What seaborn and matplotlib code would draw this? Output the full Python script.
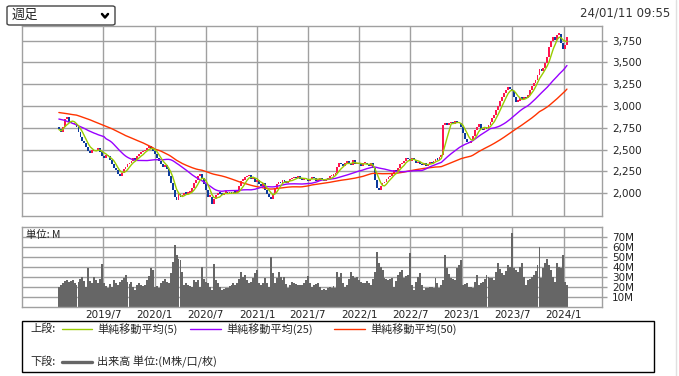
import numpy as np
import pandas as pd
import seaborn as sns
import matplotlib.pyplot as plt
import matplotlib.dates as mdates
from matplotlib.patches import FancyBboxPatch, Rectangle
from matplotlib.lines import Line2D

W, H = 679, 376

# weekly bars, first week starting 2019-01-21
start_week = "2019-01-21"
first_open = 2760
close = [
    2730, 2700, 2760, 2850, 2870, 2820, 2800, 2790, 2810, 2760,
    2700, 2640, 2600, 2580, 2530, 2480, 2460, 2500, 2480, 2500,
    2520, 2470, 2420, 2400, 2440, 2420, 2380, 2330, 2290, 2260,
    2220, 2200, 2230, 2280, 2300, 2330, 2350, 2370, 2400, 2380,
    2430, 2450, 2470, 2480, 2500, 2520, 2540, 2510, 2480, 2450,
    2400, 2370, 2330, 2300, 2320, 2280, 2200, 2120, 2030, 1950,
    1920, 1990, 1960, 1980, 2000, 1990, 2000, 2010, 2060, 2120,
    2150, 2190, 2220, 2170, 2100, 2030, 1960, 1960, 1870, 1930,
    1980, 2000, 1990, 1980, 2000, 2010, 1990, 2000, 1990, 2010,
    2000, 2010, 2080, 2140, 2150, 2180, 2190, 2210, 2160, 2170,
    2130, 2150, 2100, 2080, 2110, 2030, 1990, 1960, 1930, 1990,
    2060, 2100, 2130, 2110, 2150, 2130, 2120, 2140, 2160, 2170,
    2180, 2170, 2190, 2160, 2150, 2170, 2160, 2140, 2160, 2180,
    2170, 2140, 2150, 2170, 2160, 2140, 2150, 2170, 2190, 2200,
    2210, 2230, 2300, 2340, 2330, 2310, 2350, 2370, 2340, 2320,
    2380, 2330, 2350, 2330, 2310, 2340, 2350, 2330, 2310, 2340,
    2290, 2150, 2060, 2030, 2080, 2110, 2130, 2160, 2180, 2200,
    2230, 2260, 2250, 2290, 2330, 2350, 2370, 2400, 2390, 2370,
    2400, 2380, 2340, 2360, 2330, 2320, 2340, 2310, 2330, 2360,
    2340, 2370, 2390, 2380, 2410, 2440, 2780, 2800, 2780, 2800,
    2820, 2790, 2830, 2810, 2800, 2760, 2690, 2620, 2590, 2570,
    2600, 2650, 2720, 2760, 2790, 2740, 2720, 2760, 2740, 2780,
    2820, 2860, 2900, 2950, 3000, 3060, 3100, 3150, 3180, 3220,
    3200, 3170, 3100, 3050, 3060, 3090, 3080, 3100, 3090, 3130,
    3180, 3230, 3260, 3300, 3360, 3420, 3400, 3440, 3490, 3560,
    3680, 3750, 3790, 3760, 3820, 3830, 3720, 3660, 3700, 3790,
]
volume = [
    20, 22, 24, 26, 27, 25, 26, 27, 24, 22,
    25, 28, 30, 26, 20, 39, 26, 24, 30, 27,
    24, 28, 43, 24, 21, 19, 23, 20, 27, 24,
    22, 25, 27, 29, 32, 25, 23, 25, 20, 17,
    22, 24, 22, 21, 22, 27, 31, 39, 37, 20,
    21, 19, 24, 26, 28, 25, 24, 34, 45, 62,
    52, 48, 47, 35, 22, 24, 22, 21, 20, 27,
    25, 27, 20, 40, 28, 25, 24, 20, 17, 43,
    27, 24, 20, 17, 18, 19, 19, 21, 22, 24,
    22, 24, 28, 35, 30, 32, 27, 24, 25, 29,
    34, 37, 24, 22, 24, 29, 24, 20, 50, 34,
    24, 29, 35, 30, 27, 30, 23, 19, 22, 25,
    24, 23, 22, 22, 22, 24, 27, 31, 24, 20,
    22, 23, 24, 20, 17, 18, 17, 19, 20, 19,
    21, 19, 35, 30, 34, 24, 20, 22, 28, 35,
    31, 29, 30, 27, 25, 24, 24, 26, 24, 22,
    28, 35, 55, 44, 40, 37, 29, 28, 27, 28,
    29, 20, 26, 32, 35, 37, 29, 31, 32, 54,
    22, 17, 25, 30, 34, 22, 17, 19, 19, 20,
    20, 19, 29, 24, 19, 22, 27, 52, 39, 33,
    29, 28, 27, 39, 42, 47, 22, 23, 24, 20,
    20, 19, 25, 32, 22, 24, 25, 28, 32, 30,
    29, 29, 27, 35, 44, 38, 34, 32, 36, 42,
    40, 74, 39, 37, 35, 40, 44, 30, 22, 27,
    28, 30, 32, 36, 42, 60, 29, 39, 44, 48,
    42, 37, 30, 25, 44, 40, 39, 52, 25, 22,
]
# moving averages before a full window of shown weeks exists
ma25_head = [2850, 2845, 2840, 2835, 2825, 2815, 2810, 2800, 2792, 2782,
             2772, 2762, 2752, 2742, 2730, 2718, 2708, 2698, 2688, 2680,
             2670, 2662, 2655, 2648]
ma50_head = [2925, 2922, 2918, 2915, 2912, 2908, 2905, 2901, 2898, 2895,
             2888, 2880, 2872, 2864, 2856, 2848, 2840, 2830, 2821, 2812,
             2803, 2794, 2785, 2776, 2767, 2758, 2750, 2739, 2728, 2717,
             2706, 2695, 2684, 2672, 2660, 2651, 2641, 2632, 2622, 2613,
             2603, 2594, 2584, 2575, 2564, 2553, 2542, 2531, 2520]

price_ticks = [2000, 2250, 2500, 2750, 3000, 3250, 3500, 3750]
price_labels = ["2,000", "2,250", "2,500", "2,750", "3,000", "3,250", "3,500", "3,750"]
vol_ticks = [10, 20, 30, 40, 50, 60, 70]
vol_labels = ["10M", "20M", "30M", "40M", "50M", "60M", "70M"]
date_ticks = ["2019-07-01", "2020-01-01", "2020-07-01", "2021-01-01", "2021-07-01",
              "2022-01-01", "2022-07-01", "2023-01-01", "2023-07-01", "2024-01-01"]
date_labels = ["2019/7", "2020/1", "2020/7", "2021/1", "2021/7",
               "2022/1", "2022/7", "2023/1", "2023/7", "2024/1"]

UP, DOWN = "#ff1450", "#0c3a9c"
C5, C25, C50 = "#99cc00", "#9900ff", "#ff3300"
GRID = "#a0a0a0"

sns.set_style("white")
plt.rcParams['font.family'] = ['DejaVu Sans', 'Noto Sans CJK JP']
JP = ['Noto Sans CJK JP', 'DejaVu Sans']

df = pd.DataFrame({"date": pd.date_range(start_week, periods=len(close), freq="7D"),
                   "close": close, "volume": volume})
df["open"] = df["close"].shift(1).fillna(first_open)
df["ma5"] = df["close"].rolling(5, min_periods=1).mean()
df["ma25"] = df["close"].rolling(25).mean()
df.loc[:len(ma25_head) - 1, "ma25"] = ma25_head
df["ma50"] = df["close"].rolling(50).mean()
df.loc[:len(ma50_head) - 1, "ma50"] = ma50_head
df["x"] = mdates.date2num(df["date"]) + 3.5

tick_x = mdates.date2num(pd.to_datetime(date_ticks))
ppd = (564 - 103) / (tick_x[-1] - tick_x[0])
xlim = (tick_x[0] - (103 - 22) / ppd, tick_x[0] + (602 - 103) / ppd)

fig = plt.figure(figsize=(W / 100, H / 100), dpi=100)
ax = fig.add_axes([22 / W, 1 - 216 / H, 580 / W, 190 / H])
axv = fig.add_axes([22 / W, 1 - 307 / H, 580 / W, 80 / H])

# candles
lo = np.minimum(df["open"], df["close"])
body = np.maximum((df["close"] - df["open"]).abs(), 18)
colors = np.where(df["close"] >= df["open"], UP, DOWN)
ax.bar(df["x"], body, bottom=lo, width=6.6, color=colors, linewidth=0,
       antialiased=False, zorder=2)

sns.lineplot(x=df["x"], y=df["ma50"], ax=ax, color=C50, linewidth=1.0, estimator=None, zorder=3)
sns.lineplot(x=df["x"], y=df["ma25"], ax=ax, color=C25, linewidth=1.0, estimator=None, zorder=3)
sns.lineplot(x=df["x"], y=df["ma5"], ax=ax, color=C5, linewidth=1.0, estimator=None, zorder=4)

axv.bar(df["x"], df["volume"], width=6.95, color="#666666", linewidth=0,
        antialiased=False, zorder=2)

for a in (ax, axv):
    a.set_xlim(*xlim)
    a.set_xticks(tick_x)
    a.grid(True, color=GRID, linewidth=1)
    a.set_axisbelow(True)
    a.set_xlabel("")
    a.set_ylabel("")
    a.yaxis.tick_right()
    a.tick_params(axis="y", length=3.6, width=1, color=GRID, pad=3.6,
                  labelsize=7.5, labelcolor="#222222")
    for s in a.spines.values():
        s.set_color(GRID)
        s.set_linewidth(1)

ax.set_ylim(1736, 3919)
ax.set_yticks(price_ticks)
ax.set_yticklabels(price_labels)
ax.tick_params(axis="x", length=0, labelbottom=False)

axv.set_ylim(0, 80)
axv.set_yticks(vol_ticks)
axv.set_yticklabels(vol_labels)
axv.set_xticklabels(date_labels)
axv.tick_params(axis="x", length=0, pad=2.5, labelsize=7.5, labelcolor="#222222")
axv.text(4 / 580, 0.9, "単位: M", transform=axv.transAxes, fontsize=7.5,
         family=JP, va="center", ha="left", color="#222222")

def fx(px):
    return px / W

def fy(py):
    return 1 - py / H

# dropdown
fig.patches.append(FancyBboxPatch((fx(7), fy(25)), fx(108), 19 / H,
                                  boxstyle="round,pad=0,rounding_size=0.004",
                                  transform=fig.transFigure, fill=False,
                                  ec="#444444", lw=1))
fig.text(fx(12), fy(15.5), "週足", family=JP, fontsize=9.5, va="center", ha="left")
fig.lines.append(Line2D([fx(102), fx(105), fx(108)], [fy(14), fy(17.5), fy(14)],
                        transform=fig.transFigure, color="black", lw=1.8))
fig.text(fx(670), fy(13.5), "24/01/11 09:55", fontsize=8.5, color="#333333",
         va="center", ha="right")

# legend box
fig.patches.append(Rectangle((fx(22), fy(372)), 632 / W, 51 / H, transform=fig.transFigure,
                             fill=False, ec="black", lw=1))
r1, r2 = 329, 362
fig.text(fx(30), fy(r1), "上段:", family=JP, fontsize=8, va="center")
fig.text(fx(30), fy(r2), "下段:", family=JP, fontsize=8, va="center")
for x0, x1, col, lab in [(62, 92, C5, "単純移動平均(5)"),
                         (190, 221, C25, "単純移動平均(25)"),
                         (334, 365, C50, "単純移動平均(50)")]:
    fig.lines.append(Line2D([fx(x0), fx(x1)], [fy(r1), fy(r1)], transform=fig.transFigure,
                            color=col, lw=1))
    fig.text(fx(x1 + 5), fy(r1), lab, family=JP, fontsize=8, va="center")
fig.lines.append(Line2D([fx(62), fx(92)], [fy(r2), fy(r2)], transform=fig.transFigure,
                        color="#666666", lw=2.4))
fig.text(fx(97), fy(r2), "出来高 単位:(M株/口/枚)", family=JP, fontsize=8, va="center")

fig.lines.append(Line2D([fx(675.5), fx(675.5)], [0, 1], transform=fig.transFigure,
                        color="#e0e0e0", lw=1))

fig.savefig("out.png", dpi=100)
